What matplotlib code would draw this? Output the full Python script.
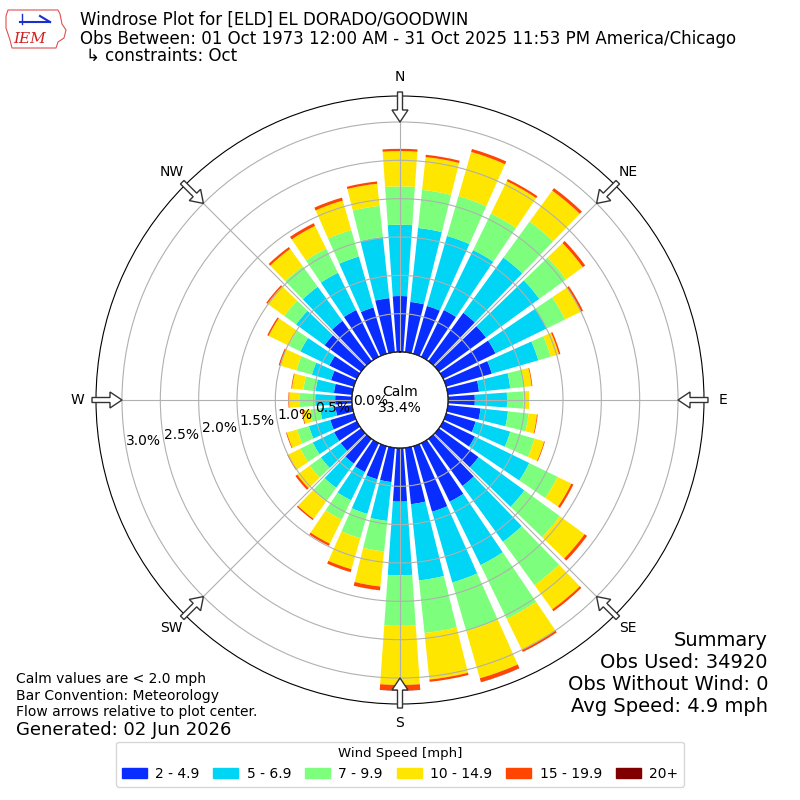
import numpy as np
import matplotlib
matplotlib.use("Agg")
import matplotlib.pyplot as plt
from matplotlib.patches import FancyArrow, Polygon, Patch

# direction bins (degrees, meteorological) and percent of obs per speed bin
directions = np.arange(0, 360, 10)
speed_labels = ["2 - 4.9", "5 - 6.9", "7 - 9.9", "10 - 14.9", "15 - 19.9", "20+"]
speed_colors = ["#0a2dff", "#00d5f5", "#7dff7d", "#ffe600", "#ff4500", "#800000"]

s_2_5 = [0.73, 0.66, 0.65, 0.68, 0.78, 0.76, 0.76, 0.62, 0.41,
         0.35, 0.43, 0.40, 0.46, 0.64, 0.76, 0.85, 0.89, 0.74,
         0.70, 0.45, 0.45, 0.42, 0.40, 0.33, 0.33, 0.32, 0.22,
         0.22, 0.24, 0.31, 0.40, 0.59, 0.65, 0.68, 0.63, 0.71]
s_5_7 = [0.93, 0.97, 0.95, 0.87, 0.89, 0.86, 0.74, 0.63, 0.41,
         0.42, 0.36, 0.47, 0.79, 0.74, 0.90, 0.92, 0.96, 1.00,
         0.96, 0.51, 0.47, 0.41, 0.39, 0.32, 0.31, 0.29, 0.20,
         0.26, 0.24, 0.26, 0.42, 0.46, 0.55, 0.54, 0.69, 0.80]
s_7_10 = [0.50, 0.50, 0.54, 0.53, 0.58, 0.43, 0.27, 0.17, 0.18,
          0.21, 0.27, 0.33, 0.41, 0.57, 0.70, 0.78, 0.66, 0.69,
          0.66, 0.40, 0.33, 0.28, 0.22, 0.18, 0.18, 0.16, 0.13,
          0.20, 0.16, 0.21, 0.17, 0.19, 0.33, 0.35, 0.36, 0.41]
s_10_15 = [0.46, 0.43, 0.60, 0.47, 0.50, 0.27, 0.23, 0.11, 0.10,
           0.08, 0.11, 0.13, 0.20, 0.40, 0.39, 0.45, 0.64, 0.61,
           0.77, 0.46, 0.42, 0.35, 0.28, 0.20, 0.18, 0.14, 0.10,
           0.14, 0.15, 0.22, 0.29, 0.27, 0.28, 0.33, 0.40, 0.29]
s_15_20 = [0.03, 0.03, 0.04, 0.03, 0.04, 0.04, 0.03, 0.02, 0.01,
           0.00, 0.01, 0.01, 0.03, 0.04, 0.03, 0.03, 0.05, 0.03,
           0.07, 0.05, 0.04, 0.03, 0.02, 0.03, 0.01, 0.01, 0.01,
           0.01, 0.01, 0.02, 0.02, 0.02, 0.03, 0.04, 0.04, 0.03]
s_20p = [0.0] * 12 + [0.0, 0.0, 0.0, 0.0, 0.004, 0.0, 0.005] + [0.0] * 17

speed_bins = [s_2_5, s_5_7, s_7_10, s_10_15, s_15_20, s_20p]
ring_values = [0.0, 0.5, 1.0, 1.5, 2.0, 2.5, 3.0]
compass = ["N", "NE", "E", "SE", "S", "SW", "W", "NW"]

fig = plt.figure(figsize=(8, 8), dpi=100)
ax = fig.add_axes([0.12, 0.12, 0.76, 0.76], projection="polar")
ax.set_theta_zero_location("N")
ax.set_theta_direction(-1)
ax.set_rorigin(-0.626)
ax.set_ylim(0, 3.339)
ax.set_axisbelow(False)

theta = np.deg2rad(directions)
bottom = np.zeros(len(directions))
handles = []
for vals, col, lab in zip(speed_bins, speed_colors, speed_labels):
    vals = np.array(vals)
    ax.bar(theta, vals, width=np.deg2rad(8), bottom=bottom, color=col,
           linewidth=0, zorder=2)
    bottom = bottom + vals
    handles.append(Patch(color=col, label=lab))

ax.set_thetagrids(np.arange(0, 360, 45), compass)
ax.tick_params(axis="x", pad=3, labelsize=10)
ax.set_rgrids(ring_values, [f"{v:.1f}%" for v in ring_values], angle=260)
ax.tick_params(axis="y", labelsize=10)
ax.grid(True, color="#b0b0b0", lw=0.8)

# calm circle
circ = np.linspace(0, 2 * np.pi, 300)
ax.plot(circ, np.zeros_like(circ), color="k", lw=1, zorder=3)
ax.text(0.5, 0.5, "Calm\n33.4%", transform=ax.transAxes, ha="center",
        va="center", fontsize=10, zorder=4)

# overlay in pixel units for arrows and logo
ov = fig.add_axes([0, 0, 1, 1], facecolor="none")
ov.set_xlim(0, 800)
ov.set_ylim(800, 0)
ov.axis("off")
for ang in np.arange(0, 360, 45):
    a = np.deg2rad(ang)
    ux, uy = np.sin(a), -np.cos(a)
    x0, y0 = 400 + 308 * ux, 400 + 308 * uy
    ov.add_patch(FancyArrow(x0, y0, -30 * ux, -30 * uy, width=5,
                            head_width=16, head_length=12,
                            length_includes_head=True, fc="white",
                            ec="#333333", lw=1, zorder=5))

# IEM logo
iowa = [(8, 10), (58, 10), (60, 14), (62, 24), (66, 30), (64, 38),
        (58, 42), (56, 48), (12, 48), (10, 40), (6, 28), (6, 16)]
ov.add_patch(Polygon(iowa, closed=True, fill=False, ec="#e05050", lw=0.8))
ov.plot([20, 50], [22, 22], color="#1a2fd0", lw=1.5)
ov.plot([40, 50], [16, 22], color="#1a2fd0", lw=1.5)
ov.plot([22, 22], [14, 24], color="#1a2fd0", lw=1)
ov.text(30, 39, "IEM", color="#d02020", fontsize=11, fontstyle="italic",
        family="DejaVu Serif", ha="center", va="center")

fig.text(80 / 800, 1 - 20 / 800, "Windrose Plot for [ELD] EL DORADO/GOODWIN",
         fontsize=12, va="center")
fig.text(80 / 800, 1 - 39 / 800,
         "Obs Between: 01 Oct 1973 12:00 AM - 31 Oct 2025 11:53 PM America/Chicago",
         fontsize=12, va="center")
fig.text(86 / 800, 1 - 56 / 800, "\u21b3 constraints: Oct", fontsize=12,
         va="center")

fig.text(16 / 800, 1 - 679 / 800, "Calm values are < 2.0 mph", fontsize=10,
         va="center")
fig.text(16 / 800, 1 - 696 / 800, "Bar Convention: Meteorology", fontsize=10,
         va="center")
fig.text(16 / 800, 1 - 712 / 800, "Flow arrows relative to plot center.",
         fontsize=10, va="center")
fig.text(16 / 800, 1 - 730 / 800, "Generated: 02 Jun 2026", fontsize=13,
         va="center")

summary = ["Summary", "Obs Used: 34920", "Obs Without Wind: 0",
           "Avg Speed: 4.9 mph"]
for i, line in enumerate(summary):
    fig.text(768 / 800, 1 - (640 + 22 * i) / 800, line, fontsize=14,
             ha="right", va="center")

fig.legend(handles=handles, loc="lower center", bbox_to_anchor=(0.5, 0.008),
           ncol=6, title="Wind Speed [mph]", fontsize=10, title_fontsize=9.5,
           handlelength=1.8, handletextpad=0.6, columnspacing=1.0)

fig.savefig("out.png", dpi=100)
